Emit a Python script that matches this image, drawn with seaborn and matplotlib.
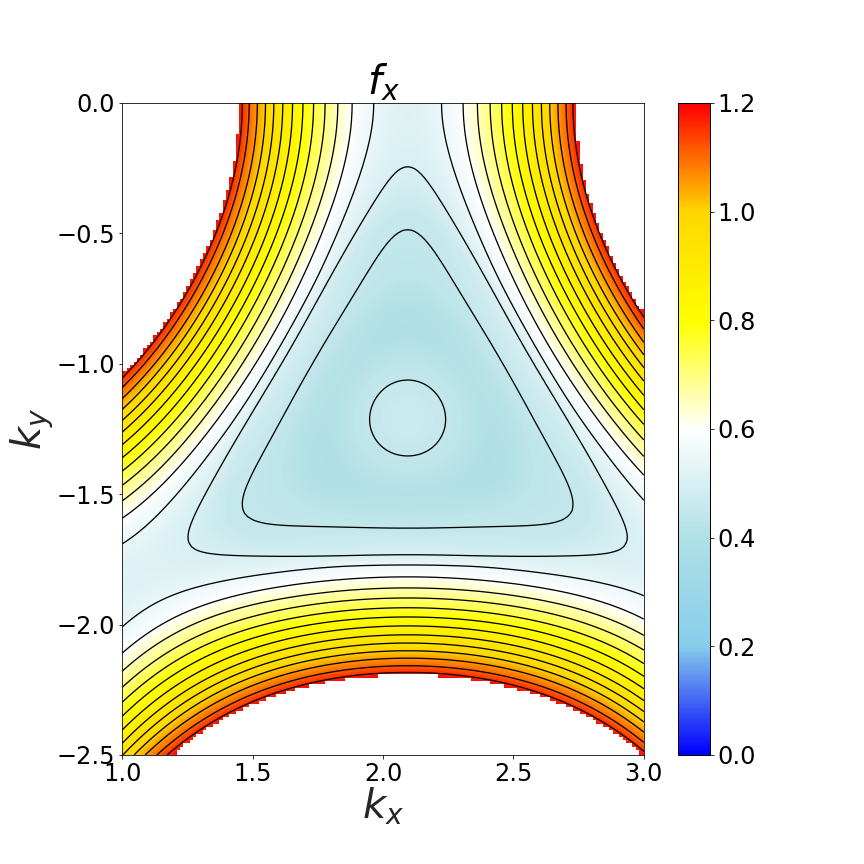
import numpy as np
import matplotlib
matplotlib.use("Agg")
import matplotlib.pyplot as plt
import seaborn as sns

# contour crossings / colour readings along the vertical line through K
# (kx = 2*pi/3), going down from K towards Gamma
ky_down = [-1.209, -1.288, -1.356, -1.419, -1.492, -1.564, -1.630, -1.740, -1.768,
           -1.818, -1.860, -1.898, -1.936, -1.971, -2.005, -2.040, -2.071,
           -2.101, -2.128, -2.159, -2.185, -2.205]
f_down = [0.47, 0.464, 0.45, 0.43, 0.41, 0.42, 0.45, 0.50, 0.55,
          0.60, 0.65, 0.70, 0.75, 0.80, 0.85, 0.90, 0.95,
          1.00, 1.05, 1.10, 1.15, 1.20]
# anisotropy (towards M minus towards Gamma, halved) read at the same |f|
r_aniso = [0.0, 0.1, 0.23, 0.683, 0.828, 0.955, 1.0, 1.1, 3.0]
d_aniso = [0.0, -0.0005, -0.001, -0.008, -0.019, -0.035, -0.038, -0.046, -0.046]

cmap_colors = ["blue", "skyblue", "powderblue", "white", "yellow", "gold", "red"]
cbar_ticks = [0.0, 0.2, 0.4, 0.6, 0.8, 1.0, 1.2]
contour_levels = [0.05, 0.10, 0.15, 0.20, 0.25, 0.30, 0.35, 0.40, 0.45, 0.50, 0.55,
                  0.60, 0.65, 0.70, 0.75, 0.80, 0.85, 0.90, 0.95, 1.00, 1.05, 1.10, 1.15]

sns.set_style("ticks", {"axes.edgecolor": "black", "xtick.color": "black",
                        "ytick.color": "black", "text.color": "black"})
plt.rcParams["font.family"] = ["DejaVu Sans"]
plt.rcParams["mathtext.fontset"] = "dejavusans"

# graphene-like structure factor, K point at (2pi/3, -2pi/(3*sqrt3))
a = np.sqrt(3) / 2
kx = np.linspace(1, 3, 158)
ky = np.linspace(-2.5, 0, 198)
KX, KY = np.meshgrid(kx, ky)
f = np.exp(1j * (KX / 2 + a * KY)) + np.exp(1j * (KX / 2 - a * KY)) + np.exp(-1j * KX)
g = f * np.exp(-1j * np.pi / 3)
r = np.abs(g)
c = np.real(g ** 3) / np.maximum(r, 1e-9) ** 3   # +1 towards M, -1 towards Gamma

# on the line through K: |f| = |2cos(a*ky) - 1|
r_down = np.abs(2 * np.cos(a * np.array(ky_down)) - 1)
slope = (f_down[-1] - f_down[-2]) / (r_down[-1] - r_down[-2])
r_fine = np.linspace(0, 3.2, 641)
prof = np.interp(r_fine, r_down, f_down)
prof = prof + np.where(r_fine > r_down[-1], slope * (r_fine - r_down[-1]), 0)
# light smoothing of the piecewise-linear profile
w = 7
pad = np.concatenate([np.full(w, prof[0]), prof, prof[-1] + slope * 0.005 * np.arange(1, w + 1)])
prof = np.convolve(pad, np.ones(2 * w + 1) / (2 * w + 1), mode="same")[w:-w]

F = np.interp(r, r_fine, prof)
F = F + (1 + c) * np.interp(r, r_aniso, d_aniso)

Fm = np.ma.masked_where(F > 1.2, F)
cmap = sns.blend_palette(cmap_colors, as_cmap=True)

fig = plt.figure(figsize=(12, 12), dpi=72)
ax = fig.add_axes([122 / 864, 109 / 864, 522 / 864, 652 / 864])
cax = fig.add_axes([678 / 864, 109 / 864, 32 / 864, 652 / 864])

im = ax.imshow(Fm, extent=[1, 3, -2.5, 0], origin="lower", cmap=cmap,
               vmin=0, vmax=1.2, interpolation="bilinear", aspect="equal")
ax.contour(KX, KY, F, levels=contour_levels, colors="black", linewidths=1.3)
ax.set_xlim(1, 3)
ax.set_ylim(-2.5, 0)
ax.set_xticks([1.0, 1.5, 2.0, 2.5, 3.0])
ax.set_yticks([0.0, -0.5, -1.0, -1.5, -2.0, -2.5])
ax.tick_params(labelsize=24)
ax.set_xlabel("$k_x$", fontsize=40, labelpad=0)
ax.set_ylabel("$k_y$", fontsize=40, labelpad=0)
ax.set_title("$f_x$", fontsize=40, pad=4)

cb = fig.colorbar(im, cax=cax, ticks=cbar_ticks)
cb.ax.tick_params(labelsize=24)
cb.outline.set_linewidth(1)

fig.savefig("out.png", dpi=72)
